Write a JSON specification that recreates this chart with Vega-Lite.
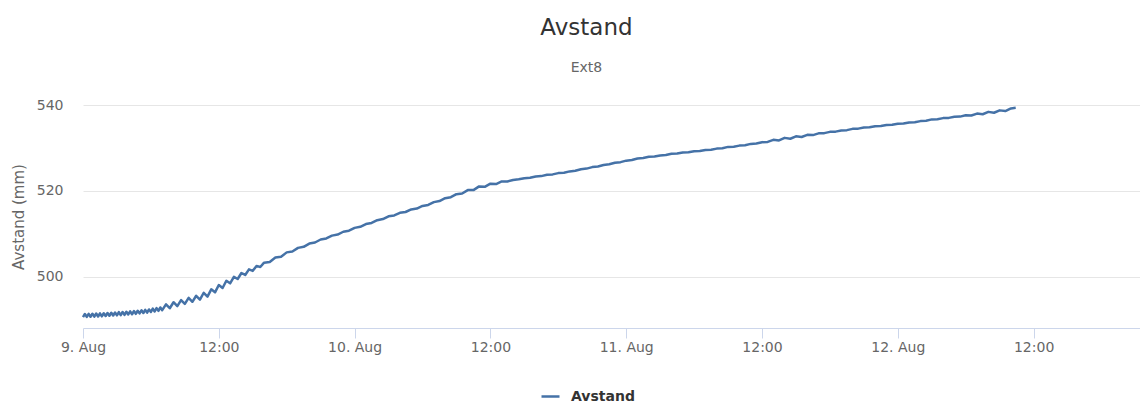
{
  "$schema": "https://vega.github.io/schema/vega-lite/v6.json",
  "autosize": {"type": "none"},
  "width": 1057,
  "height": 223,
  "padding": {"left": 83, "top": 105, "right": 0, "bottom": 76},
  "background": "white",
  "title": {
    "text": "Avstand",
    "subtitle": "Ext8",
    "anchor": "middle",
    "frame": "group",
    "dx": -25,
    "offset": 23,
    "font": "DejaVu Sans",
    "fontSize": 23,
    "fontWeight": "normal",
    "color": "#333333",
    "subtitleFont": "DejaVu Sans",
    "subtitleFontSize": 14,
    "subtitleColor": "#666666",
    "subtitlePadding": 21
  },
  "config": {
    "view": {"stroke": null},
    "font": "DejaVu Sans"
  },
  "data": {
    "values": [
      {"t": "2016-08-09T00:00", "v": 490.65},
      {"t": "2016-08-09T00:10", "v": 491.37},
      {"t": "2016-08-09T00:20", "v": 490.68},
      {"t": "2016-08-09T00:30", "v": 491.40},
      {"t": "2016-08-09T00:40", "v": 490.72},
      {"t": "2016-08-09T00:50", "v": 491.43},
      {"t": "2016-08-09T01:00", "v": 490.75},
      {"t": "2016-08-09T01:10", "v": 491.47},
      {"t": "2016-08-09T01:20", "v": 490.78},
      {"t": "2016-08-09T01:30", "v": 491.50},
      {"t": "2016-08-09T01:40", "v": 490.82},
      {"t": "2016-08-09T01:50", "v": 491.54},
      {"t": "2016-08-09T02:00", "v": 490.90},
      {"t": "2016-08-09T02:10", "v": 491.60},
      {"t": "2016-08-09T02:20", "v": 490.95},
      {"t": "2016-08-09T02:30", "v": 491.65},
      {"t": "2016-08-09T02:40", "v": 491.00},
      {"t": "2016-08-09T02:50", "v": 491.70},
      {"t": "2016-08-09T03:00", "v": 491.05},
      {"t": "2016-08-09T03:10", "v": 491.78},
      {"t": "2016-08-09T03:20", "v": 491.10},
      {"t": "2016-08-09T03:30", "v": 491.83},
      {"t": "2016-08-09T03:40", "v": 491.15},
      {"t": "2016-08-09T03:50", "v": 491.88},
      {"t": "2016-08-09T04:00", "v": 491.25},
      {"t": "2016-08-09T04:10", "v": 491.97},
      {"t": "2016-08-09T04:20", "v": 491.30},
      {"t": "2016-08-09T04:30", "v": 492.05},
      {"t": "2016-08-09T04:40", "v": 491.40},
      {"t": "2016-08-09T04:50", "v": 492.12},
      {"t": "2016-08-09T05:00", "v": 491.50},
      {"t": "2016-08-09T05:10", "v": 492.22},
      {"t": "2016-08-09T05:20", "v": 491.58},
      {"t": "2016-08-09T05:30", "v": 492.32},
      {"t": "2016-08-09T05:40", "v": 491.68},
      {"t": "2016-08-09T05:50", "v": 492.42},
      {"t": "2016-08-09T06:00", "v": 491.85},
      {"t": "2016-08-09T06:10", "v": 492.60},
      {"t": "2016-08-09T06:20", "v": 491.95},
      {"t": "2016-08-09T06:30", "v": 492.72},
      {"t": "2016-08-09T06:40", "v": 492.10},
      {"t": "2016-08-09T06:50", "v": 492.88},
      {"t": "2016-08-09T07:00", "v": 492.25},
      {"t": "2016-08-09T07:20", "v": 493.60},
      {"t": "2016-08-09T07:40", "v": 492.70},
      {"t": "2016-08-09T08:00", "v": 494.10},
      {"t": "2016-08-09T08:20", "v": 493.20},
      {"t": "2016-08-09T08:40", "v": 494.60},
      {"t": "2016-08-09T09:00", "v": 493.70},
      {"t": "2016-08-09T09:20", "v": 495.10},
      {"t": "2016-08-09T09:40", "v": 494.20},
      {"t": "2016-08-09T10:00", "v": 495.60},
      {"t": "2016-08-09T10:20", "v": 494.70},
      {"t": "2016-08-09T10:40", "v": 496.30},
      {"t": "2016-08-09T11:00", "v": 495.40},
      {"t": "2016-08-09T11:20", "v": 497.10},
      {"t": "2016-08-09T11:40", "v": 496.40},
      {"t": "2016-08-09T12:00", "v": 498.10},
      {"t": "2016-08-09T12:20", "v": 497.40},
      {"t": "2016-08-09T12:40", "v": 499.10},
      {"t": "2016-08-09T13:00", "v": 498.50},
      {"t": "2016-08-09T13:20", "v": 500.00},
      {"t": "2016-08-09T13:40", "v": 499.50},
      {"t": "2016-08-09T14:00", "v": 500.90},
      {"t": "2016-08-09T14:20", "v": 500.45},
      {"t": "2016-08-09T14:40", "v": 501.75},
      {"t": "2016-08-09T15:00", "v": 501.40},
      {"t": "2016-08-09T15:20", "v": 502.55},
      {"t": "2016-08-09T15:40", "v": 502.30},
      {"t": "2016-08-09T16:00", "v": 503.30},
      {"t": "2016-08-09T16:30", "v": 503.45},
      {"t": "2016-08-09T17:00", "v": 504.50},
      {"t": "2016-08-09T17:30", "v": 504.70},
      {"t": "2016-08-09T18:00", "v": 505.70},
      {"t": "2016-08-09T18:30", "v": 505.90},
      {"t": "2016-08-09T19:00", "v": 506.75},
      {"t": "2016-08-09T19:30", "v": 507.00},
      {"t": "2016-08-09T20:00", "v": 507.75},
      {"t": "2016-08-09T20:30", "v": 508.00},
      {"t": "2016-08-09T21:00", "v": 508.70},
      {"t": "2016-08-09T21:30", "v": 508.95},
      {"t": "2016-08-09T22:00", "v": 509.60},
      {"t": "2016-08-09T22:30", "v": 509.85},
      {"t": "2016-08-09T23:00", "v": 510.50},
      {"t": "2016-08-09T23:30", "v": 510.75},
      {"t": "2016-08-10T00:00", "v": 511.40},
      {"t": "2016-08-10T00:30", "v": 511.65},
      {"t": "2016-08-10T01:00", "v": 512.30},
      {"t": "2016-08-10T01:30", "v": 512.55},
      {"t": "2016-08-10T02:00", "v": 513.20},
      {"t": "2016-08-10T02:30", "v": 513.45},
      {"t": "2016-08-10T03:00", "v": 514.10},
      {"t": "2016-08-10T03:30", "v": 514.30},
      {"t": "2016-08-10T04:00", "v": 514.90},
      {"t": "2016-08-10T04:30", "v": 515.10},
      {"t": "2016-08-10T05:00", "v": 515.70},
      {"t": "2016-08-10T05:30", "v": 515.90},
      {"t": "2016-08-10T06:00", "v": 516.50},
      {"t": "2016-08-10T06:30", "v": 516.75},
      {"t": "2016-08-10T07:00", "v": 517.40},
      {"t": "2016-08-10T07:30", "v": 517.65},
      {"t": "2016-08-10T08:00", "v": 518.30},
      {"t": "2016-08-10T08:30", "v": 518.55},
      {"t": "2016-08-10T09:00", "v": 519.25},
      {"t": "2016-08-10T09:30", "v": 519.40},
      {"t": "2016-08-10T10:00", "v": 520.20},
      {"t": "2016-08-10T10:30", "v": 520.20},
      {"t": "2016-08-10T11:00", "v": 521.05},
      {"t": "2016-08-10T11:30", "v": 520.95},
      {"t": "2016-08-10T12:00", "v": 521.70},
      {"t": "2016-08-10T12:30", "v": 521.60},
      {"t": "2016-08-10T13:00", "v": 522.20},
      {"t": "2016-08-10T13:30", "v": 522.20},
      {"t": "2016-08-10T14:00", "v": 522.55},
      {"t": "2016-08-10T14:30", "v": 522.70},
      {"t": "2016-08-10T15:00", "v": 522.95},
      {"t": "2016-08-10T15:30", "v": 523.05},
      {"t": "2016-08-10T16:00", "v": 523.35},
      {"t": "2016-08-10T16:30", "v": 523.45},
      {"t": "2016-08-10T17:00", "v": 523.75},
      {"t": "2016-08-10T17:30", "v": 523.85},
      {"t": "2016-08-10T18:00", "v": 524.15},
      {"t": "2016-08-10T18:30", "v": 524.25},
      {"t": "2016-08-10T19:00", "v": 524.55},
      {"t": "2016-08-10T19:30", "v": 524.70},
      {"t": "2016-08-10T20:00", "v": 525.05},
      {"t": "2016-08-10T20:30", "v": 525.20},
      {"t": "2016-08-10T21:00", "v": 525.55},
      {"t": "2016-08-10T21:30", "v": 525.70},
      {"t": "2016-08-10T22:00", "v": 526.05},
      {"t": "2016-08-10T22:30", "v": 526.20},
      {"t": "2016-08-10T23:00", "v": 526.55},
      {"t": "2016-08-10T23:30", "v": 526.70},
      {"t": "2016-08-11T00:00", "v": 527.05},
      {"t": "2016-08-11T00:30", "v": 527.20},
      {"t": "2016-08-11T01:00", "v": 527.55},
      {"t": "2016-08-11T01:30", "v": 527.65},
      {"t": "2016-08-11T02:00", "v": 527.95},
      {"t": "2016-08-11T02:30", "v": 528.00},
      {"t": "2016-08-11T03:00", "v": 528.25},
      {"t": "2016-08-11T03:30", "v": 528.35},
      {"t": "2016-08-11T04:00", "v": 528.65},
      {"t": "2016-08-11T04:30", "v": 528.70},
      {"t": "2016-08-11T05:00", "v": 528.95},
      {"t": "2016-08-11T05:30", "v": 529.00},
      {"t": "2016-08-11T06:00", "v": 529.25},
      {"t": "2016-08-11T06:30", "v": 529.30},
      {"t": "2016-08-11T07:00", "v": 529.55},
      {"t": "2016-08-11T07:30", "v": 529.60},
      {"t": "2016-08-11T08:00", "v": 529.85},
      {"t": "2016-08-11T08:30", "v": 529.95},
      {"t": "2016-08-11T09:00", "v": 530.25},
      {"t": "2016-08-11T09:30", "v": 530.30},
      {"t": "2016-08-11T10:00", "v": 530.55},
      {"t": "2016-08-11T10:30", "v": 530.65},
      {"t": "2016-08-11T11:00", "v": 530.95},
      {"t": "2016-08-11T11:30", "v": 531.05},
      {"t": "2016-08-11T12:00", "v": 531.35},
      {"t": "2016-08-11T12:30", "v": 531.40},
      {"t": "2016-08-11T13:00", "v": 531.90},
      {"t": "2016-08-11T13:30", "v": 531.75},
      {"t": "2016-08-11T14:00", "v": 532.35},
      {"t": "2016-08-11T14:30", "v": 532.15},
      {"t": "2016-08-11T15:00", "v": 532.70},
      {"t": "2016-08-11T15:30", "v": 532.55},
      {"t": "2016-08-11T16:00", "v": 533.05},
      {"t": "2016-08-11T16:30", "v": 533.00},
      {"t": "2016-08-11T17:00", "v": 533.40},
      {"t": "2016-08-11T17:30", "v": 533.45},
      {"t": "2016-08-11T18:00", "v": 533.75},
      {"t": "2016-08-11T18:30", "v": 533.80},
      {"t": "2016-08-11T19:00", "v": 534.05},
      {"t": "2016-08-11T19:30", "v": 534.15},
      {"t": "2016-08-11T20:00", "v": 534.45},
      {"t": "2016-08-11T20:30", "v": 534.50},
      {"t": "2016-08-11T21:00", "v": 534.75},
      {"t": "2016-08-11T21:30", "v": 534.80},
      {"t": "2016-08-11T22:00", "v": 535.05},
      {"t": "2016-08-11T22:30", "v": 535.10},
      {"t": "2016-08-11T23:00", "v": 535.35},
      {"t": "2016-08-11T23:30", "v": 535.40},
      {"t": "2016-08-12T00:00", "v": 535.65},
      {"t": "2016-08-12T00:30", "v": 535.70},
      {"t": "2016-08-12T01:00", "v": 535.95},
      {"t": "2016-08-12T01:30", "v": 536.00},
      {"t": "2016-08-12T02:00", "v": 536.25},
      {"t": "2016-08-12T02:30", "v": 536.35},
      {"t": "2016-08-12T03:00", "v": 536.65},
      {"t": "2016-08-12T03:30", "v": 536.70},
      {"t": "2016-08-12T04:00", "v": 536.95},
      {"t": "2016-08-12T04:30", "v": 537.00},
      {"t": "2016-08-12T05:00", "v": 537.25},
      {"t": "2016-08-12T05:30", "v": 537.30},
      {"t": "2016-08-12T06:00", "v": 537.60},
      {"t": "2016-08-12T06:30", "v": 537.55},
      {"t": "2016-08-12T07:00", "v": 538.00},
      {"t": "2016-08-12T07:30", "v": 537.85},
      {"t": "2016-08-12T08:00", "v": 538.40},
      {"t": "2016-08-12T08:30", "v": 538.20},
      {"t": "2016-08-12T09:00", "v": 538.75},
      {"t": "2016-08-12T09:30", "v": 538.60},
      {"t": "2016-08-12T10:00", "v": 539.20},
      {"t": "2016-08-12T10:25", "v": 539.35}
    ]
  },
  "mark": {"type": "line", "strokeWidth": 2.5, "interpolate": "linear", "strokeJoin": "round"},
  "encoding": {
    "x": {
      "field": "t",
      "type": "temporal",
      "scale": {"domain": ["2016-08-09T00:00", "2016-08-12T21:24"], "nice": false},
      "axis": {
        "title": null,
        "grid": false,
        "values": [
          {"year": 2016, "month": 8, "date": 9, "hours": 0},
          {"year": 2016, "month": 8, "date": 9, "hours": 12},
          {"year": 2016, "month": 8, "date": 10, "hours": 0},
          {"year": 2016, "month": 8, "date": 10, "hours": 12},
          {"year": 2016, "month": 8, "date": 11, "hours": 0},
          {"year": 2016, "month": 8, "date": 11, "hours": 12},
          {"year": 2016, "month": 8, "date": 12, "hours": 0},
          {"year": 2016, "month": 8, "date": 12, "hours": 12}
        ],
        "labelExpr": "hours(datum.value) == 0 ? timeFormat(datum.value, '%-d. %b') : timeFormat(datum.value, '%H:%M')",
        "domainColor": "#ccd6eb",
        "domainWidth": 1,
        "tickColor": "#ccd6eb",
        "tickSize": 10,
        "tickWidth": 1,
        "labelFont": "DejaVu Sans",
        "labelFontSize": 14,
        "labelColor": "#666666",
        "labelPadding": 2,
        "labelFlush": false,
        "labelOverlap": false
      }
    },
    "y": {
      "field": "v",
      "type": "quantitative",
      "scale": {"domain": [488.1, 540], "nice": false, "zero": false},
      "axis": {
        "title": "Avstand (mm)",
        "titleFont": "DejaVu Sans",
        "titleFontSize": 15,
        "titleFontWeight": "normal",
        "titleColor": "#666666",
        "titlePadding": 10,
        "values": [500, 520, 540],
        "domain": false,
        "ticks": false,
        "grid": true,
        "gridColor": "#e6e6e6",
        "gridWidth": 1,
        "labelFont": "DejaVu Sans",
        "labelFontSize": 14,
        "labelColor": "#666666",
        "labelPadding": 20
      }
    },
    "color": {
      "datum": "Avstand",
      "type": "nominal",
      "scale": {"range": ["#4572a7"]},
      "legend": {
        "title": null,
        "orient": "none",
        "legendX": 457,
        "legendY": 281,
        "padding": 0,
        "symbolType": "stroke",
        "symbolSize": 324,
        "symbolStrokeWidth": 2.5,
        "labelFont": "DejaVu Sans",
        "labelFontSize": 14,
        "labelFontWeight": "bold",
        "labelColor": "#333333",
        "labelOffset": 10
      }
    }
  }
}
